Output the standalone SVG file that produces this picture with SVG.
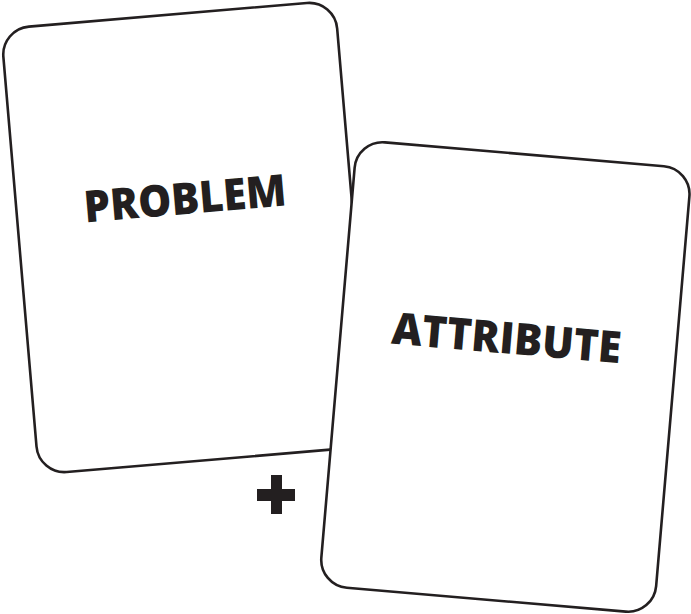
<svg xmlns="http://www.w3.org/2000/svg" width="691" height="614" viewBox="0 0 691 614">
<style>
.card{fill:#ffffff;stroke:#231f20;stroke-width:2.6}
.lbl{font-family:"Open Sans","Liberation Sans",sans-serif;font-weight:800;font-size:44px;fill:#231f20;text-anchor:middle}
.plus{fill:#231f20}
</style>
<rect width="691" height="614" fill="#ffffff"/>
<g id="card-problem" transform="translate(1,29) rotate(-4.86)">
<rect class="card" x="0" y="0" width="335" height="447" rx="28" ry="28"/>
<text class="lbl" x="169" y="200" textLength="203" lengthAdjust="spacingAndGlyphs">PROBLEM</text>
</g>
<g id="plus">
<rect class="plus" x="271" y="475" width="11" height="39"/>
<rect class="plus" x="257" y="489" width="38" height="12"/>
</g>
<g id="card-attribute" transform="translate(357,140) rotate(4.88)">
<rect class="card" x="0" y="0" width="336" height="447" rx="28" ry="28"/>
<text class="lbl" x="166" y="200" textLength="230" lengthAdjust="spacingAndGlyphs">ATTRIBUTE</text>
</g>
<g id="connectors"></g>
</svg>
